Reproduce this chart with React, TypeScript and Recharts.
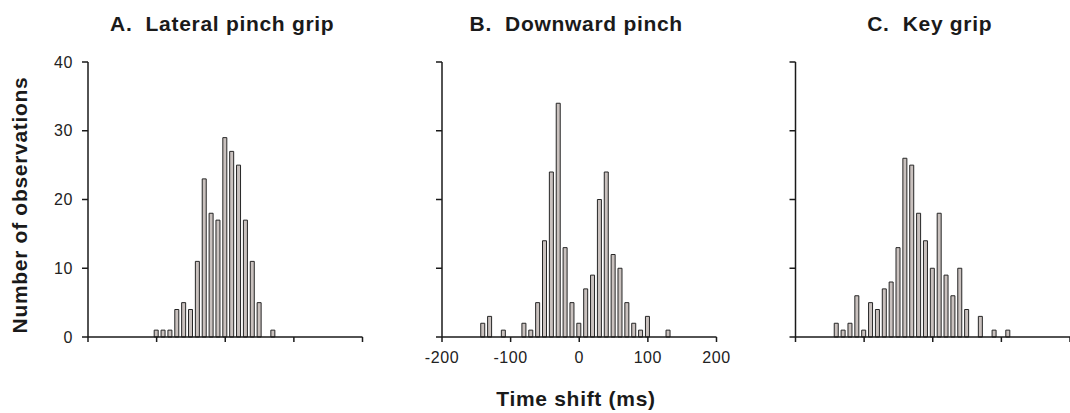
import { BarChart, Bar, XAxis, YAxis } from 'recharts';

// bin centres (ms), 10 ms wide
const TIME_BINS = [
  -140, -130, -120, -110, -100, -90, -80, -70, -60, -50, -40, -30, -20, -10,
  0, 10, 20, 30, 40, 50, 60, 70, 80, 90, 100, 110, 120, 130,
];

const LATERAL_COUNTS = [
  0, 0, 0, 0, 1, 1, 1, 4, 5, 4, 11, 23, 18, 17,
  29, 27, 25, 17, 11, 5, 0, 1, 0, 0, 0, 0, 0, 0,
];

const DOWNWARD_COUNTS = [
  2, 3, 0, 1, 0, 0, 2, 1, 5, 14, 24, 34, 13, 5,
  2, 7, 9, 20, 24, 12, 10, 5, 2, 1, 3, 0, 0, 1,
];

const KEY_COUNTS = [
  2, 1, 2, 6, 1, 5, 4, 7, 8, 13, 26, 25, 18, 14,
  10, 18, 9, 6, 10, 4, 0, 3, 0, 1, 0, 1, 0, 0,
];

const X_TICKS = [-200, -100, 0, 100, 200];
const Y_TICKS = [0, 10, 20, 30, 40];

const TITLES = ['A.  Lateral pinch grip', 'B.  Downward pinch', 'C.  Key grip'];

const W = 1070;
const H = 413;
const PLOT_TOP = 62;
const PLOT_BOTTOM = 337;
const PLOT_W = 274.5;
const Y_AXIS_W = 40;
const X_AXIS_H = 40;
const FONT = '"Liberation Sans", Arial, Helvetica, sans-serif';
const AXIS_COLOR = '#1a1a1a';

const toRows = (counts: number[]) => TIME_BINS.map((t, i) => ({ t, n: counts[i] }));

// keeps the tick marks but draws no label
const NoLabel = () => <g />;

const tickText = { fontSize: 16, fill: '#222', fontFamily: FONT, letterSpacing: 0.6 };

type PanelProps = {
  counts: number[];
  left: number;
  showY: boolean;
  showX: boolean;
};

function Panel({ counts, left, showY, showX }: PanelProps) {
  const data = toRows(counts);
  return (
    <div style={{ position: 'absolute', left: 0, top: 0 }}>
      <BarChart
        width={W}
        height={H}
        data={data}
        barCategoryGap={0}
        margin={{
          top: PLOT_TOP,
          bottom: H - PLOT_BOTTOM - X_AXIS_H,
          left: left - Y_AXIS_W,
          right: W - left - PLOT_W,
        }}
      >
        <XAxis
          dataKey="t"
          type="number"
          domain={[-200, 200]}
          ticks={X_TICKS}
          allowDataOverflow
          height={X_AXIS_H}
          tickSize={5}
          tickMargin={10}
          axisLine={{ stroke: AXIS_COLOR, strokeWidth: 1.5 }}
          tickLine={{ stroke: AXIS_COLOR, strokeWidth: 1.5 }}
          tick={showX ? tickText : NoLabel}
        />
        <YAxis
          type="number"
          domain={[0, 40]}
          ticks={Y_TICKS}
          width={Y_AXIS_W}
          tickSize={6}
          tickMargin={9}
          axisLine={{ stroke: AXIS_COLOR, strokeWidth: 1.5 }}
          tickLine={{ stroke: AXIS_COLOR, strokeWidth: 1.5 }}
          tick={showY ? tickText : NoLabel}
        />
        <Bar
          dataKey="n"
          barSize={4}
          fill="#c9c1be"
          stroke="#262626"
          strokeWidth={1}
          isAnimationActive={false}
        />
      </BarChart>
    </div>
  );
}

const PANEL_LEFTS = [88, 442, 795.5];

export default function App() {
  return (
    <div style={{ position: 'absolute', left: 0, top: 0, width: W, height: H, background: '#fff' }}>
      <Panel counts={LATERAL_COUNTS} left={PANEL_LEFTS[0]} showY showX={false} />
      <Panel counts={DOWNWARD_COUNTS} left={PANEL_LEFTS[1]} showY={false} showX />
      <Panel counts={KEY_COUNTS} left={PANEL_LEFTS[2]} showY={false} showX={false} />
      <svg
        width={W}
        height={H}
        style={{ position: 'absolute', left: 0, top: 0, pointerEvents: 'none' }}
        fontFamily={FONT}
        fontWeight="bold"
        fill="#1a1a1a"
      >
        {TITLES.map((title, i) => (
          <text
            key={title}
            x={PANEL_LEFTS[i] + PLOT_W / 2 - 3}
            y={31}
            textAnchor="middle"
            fontSize={21}
            letterSpacing={0.7}
            style={{ whiteSpace: 'pre' }}
          >
            {title}
          </text>
        ))}
        <text
          x={27}
          y={205}
          transform="rotate(-90 27 205)"
          textAnchor="middle"
          fontSize={21}
          letterSpacing={0.7}
        >
          Number of observations
        </text>
        <text x={576} y={406} textAnchor="middle" fontSize={21} letterSpacing={0.7}>
          Time shift (ms)
        </text>
      </svg>
    </div>
  );
}
